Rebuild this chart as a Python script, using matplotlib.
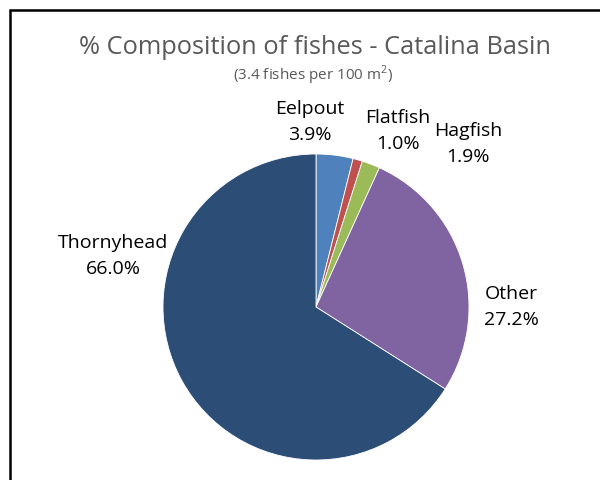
import matplotlib
matplotlib.use("Agg")
import matplotlib.pyplot as plt
from matplotlib.patches import Rectangle

categories = ["Eelpout", "Flatfish", "Hagfish", "Other", "Thornyhead"]
values = [3.9, 1.0, 1.9, 27.2, 66.0]
colors = ["#4F81BD", "#C0504D", "#9BBB59", "#8064A2", "#2C4D75"]
title = "% Composition of fishes - Catalina Basin"
subtitle = "(3.4 fishes per 100 m$^2$)"

label_pos = {"Eelpout": (310, 122), "Flatfish": (398, 131), "Hagfish": (468, 144),
             "Other": (511, 307), "Thornyhead": (113, 256)}

plt.rcParams['font.family'] = ['Open Sans', 'DejaVu Sans']
plt.rcParams['mathtext.fontset'] = 'custom'
plt.rcParams['mathtext.rm'] = 'Open Sans'
fig = plt.figure(figsize=(6, 4.8), dpi=100)
ax = fig.add_axes([0, 0, 1, 1])
ax.set_xlim(0, 600)
ax.set_ylim(0, 480)
ax.set_aspect('equal')
ax.axis('off')

ax.add_patch(Rectangle((9.5, -20), 620, 480 - 9.5 + 20, fill=False,
                       edgecolor='black', linewidth=1.8))

ax.pie(values, colors=colors, startangle=90, counterclock=False,
       center=(316, 173), radius=153, frame=True,
       wedgeprops=dict(edgecolor='white', linewidth=0.6))
ax.set_xlim(0, 600)
ax.set_ylim(0, 480)
ax.axis('off')

ax.text(315, 480 - 47, title, ha='center', va='center', fontsize=18.3, color='#595959')
ax.text(313, 480 - 75, subtitle, ha='center', va='center', fontsize=11, color='#595959')

for c, v in zip(categories, values):
    x, y = label_pos[c]
    ax.text(x, 480 - y, f"{c}\n{v:.1f}%", ha='center', va='center', fontsize=14,
            color='black', linespacing=1.62)

fig.savefig("out.png", dpi=100)
